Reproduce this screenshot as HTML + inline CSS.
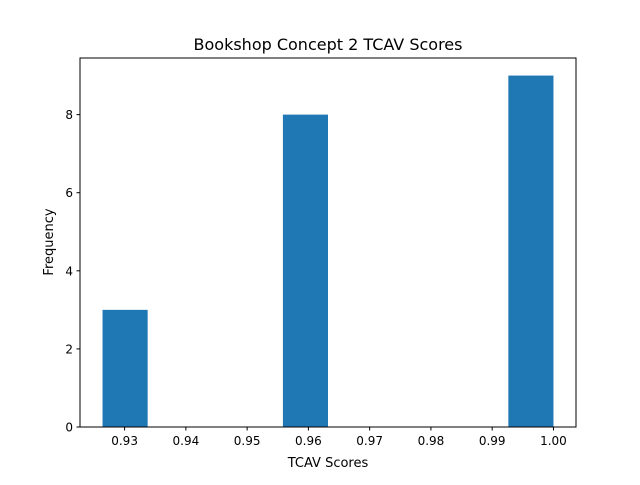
<!DOCTYPE html>
<html><head><meta charset="utf-8"><style>
body{margin:0;background:#fff;font-family:"Liberation Sans","DejaVu Sans",sans-serif}
</style></head><body>
<svg id="chart" width="640" height="480" xmlns="http://www.w3.org/2000/svg" font-family="DejaVu Sans, Liberation Sans, sans-serif">
<rect width="640" height="480" fill="#fff"/>
<text x="328" y="50" font-size="16" text-anchor="middle">Bookshop Concept 2 TCAV Scores</text>
<g id="bars"></g>
<g id="xticks"></g>
<g id="yticks"></g>
<rect x="80" y="58" width="496" height="369" fill="none" stroke="#000" stroke-width="1"/>
<text x="328" y="467" font-size="13" text-anchor="middle">TCAV Scores</text>
<text transform="translate(53,242) rotate(-90)" font-size="13" text-anchor="middle">Frequency</text>
</svg>
<script>
const binMin = 0.9264;
const binMax = 1.0;
const counts = [3,0,0,0,8,0,0,0,0,9];
const xTickLabels = ["0.93","0.94","0.95","0.96","0.97","0.98","0.99","1.00"];
const yTickLabels = ["0","2","4","6","8"];

const L=80,R=576,T=58,B=427;
const span=binMax-binMin, pad=span*0.05;
const x=v=>L+(v-(binMin-pad))/(span+2*pad)*(R-L);
const yMax=Math.max(...counts)*1.05;
const y=v=>B-v/yMax*(B-T);
const NS="http://www.w3.org/2000/svg";
const mk=(t,a,p)=>{const e=document.createElementNS(NS,t);for(const k in a)e.setAttribute(k,a[k]);p.appendChild(e);return e;};
const bw=span/counts.length;
const gb=document.getElementById('bars');
counts.forEach((c,i)=>{
  if(c<=0)return;
  const x0=x(binMin+i*bw),x1=x(binMin+(i+1)*bw);
  const r=mk('rect',{x:x0,y:y(c),width:x1-x0,height:y(0)-y(c),fill:'#1f77b4'},gb);
  
  
});
const gx=document.getElementById('xticks');
xTickLabels.forEach(l=>{
  const px=x(parseFloat(l));
  const ln=mk('line',{x1:px,x2:px,y1:B,y2:B+3.5,stroke:'#000'},gx);
  
  
  const t=mk('text',{x:px,y:B+18,'font-size':12,'text-anchor':'middle'},gx);
  t.textContent=l;
  
  
});
const gy=document.getElementById('yticks');
yTickLabels.forEach(l=>{
  const py=y(parseFloat(l));
  const ln=mk('line',{x1:L-3.5,x2:L,y1:py,y2:py,stroke:'#000'},gy);
  
  
  const t=mk('text',{x:L-7,y:py+4.5,'font-size':12,'text-anchor':'end'},gy);
  t.textContent=l;
  
  
});
</script>
</body></html>
